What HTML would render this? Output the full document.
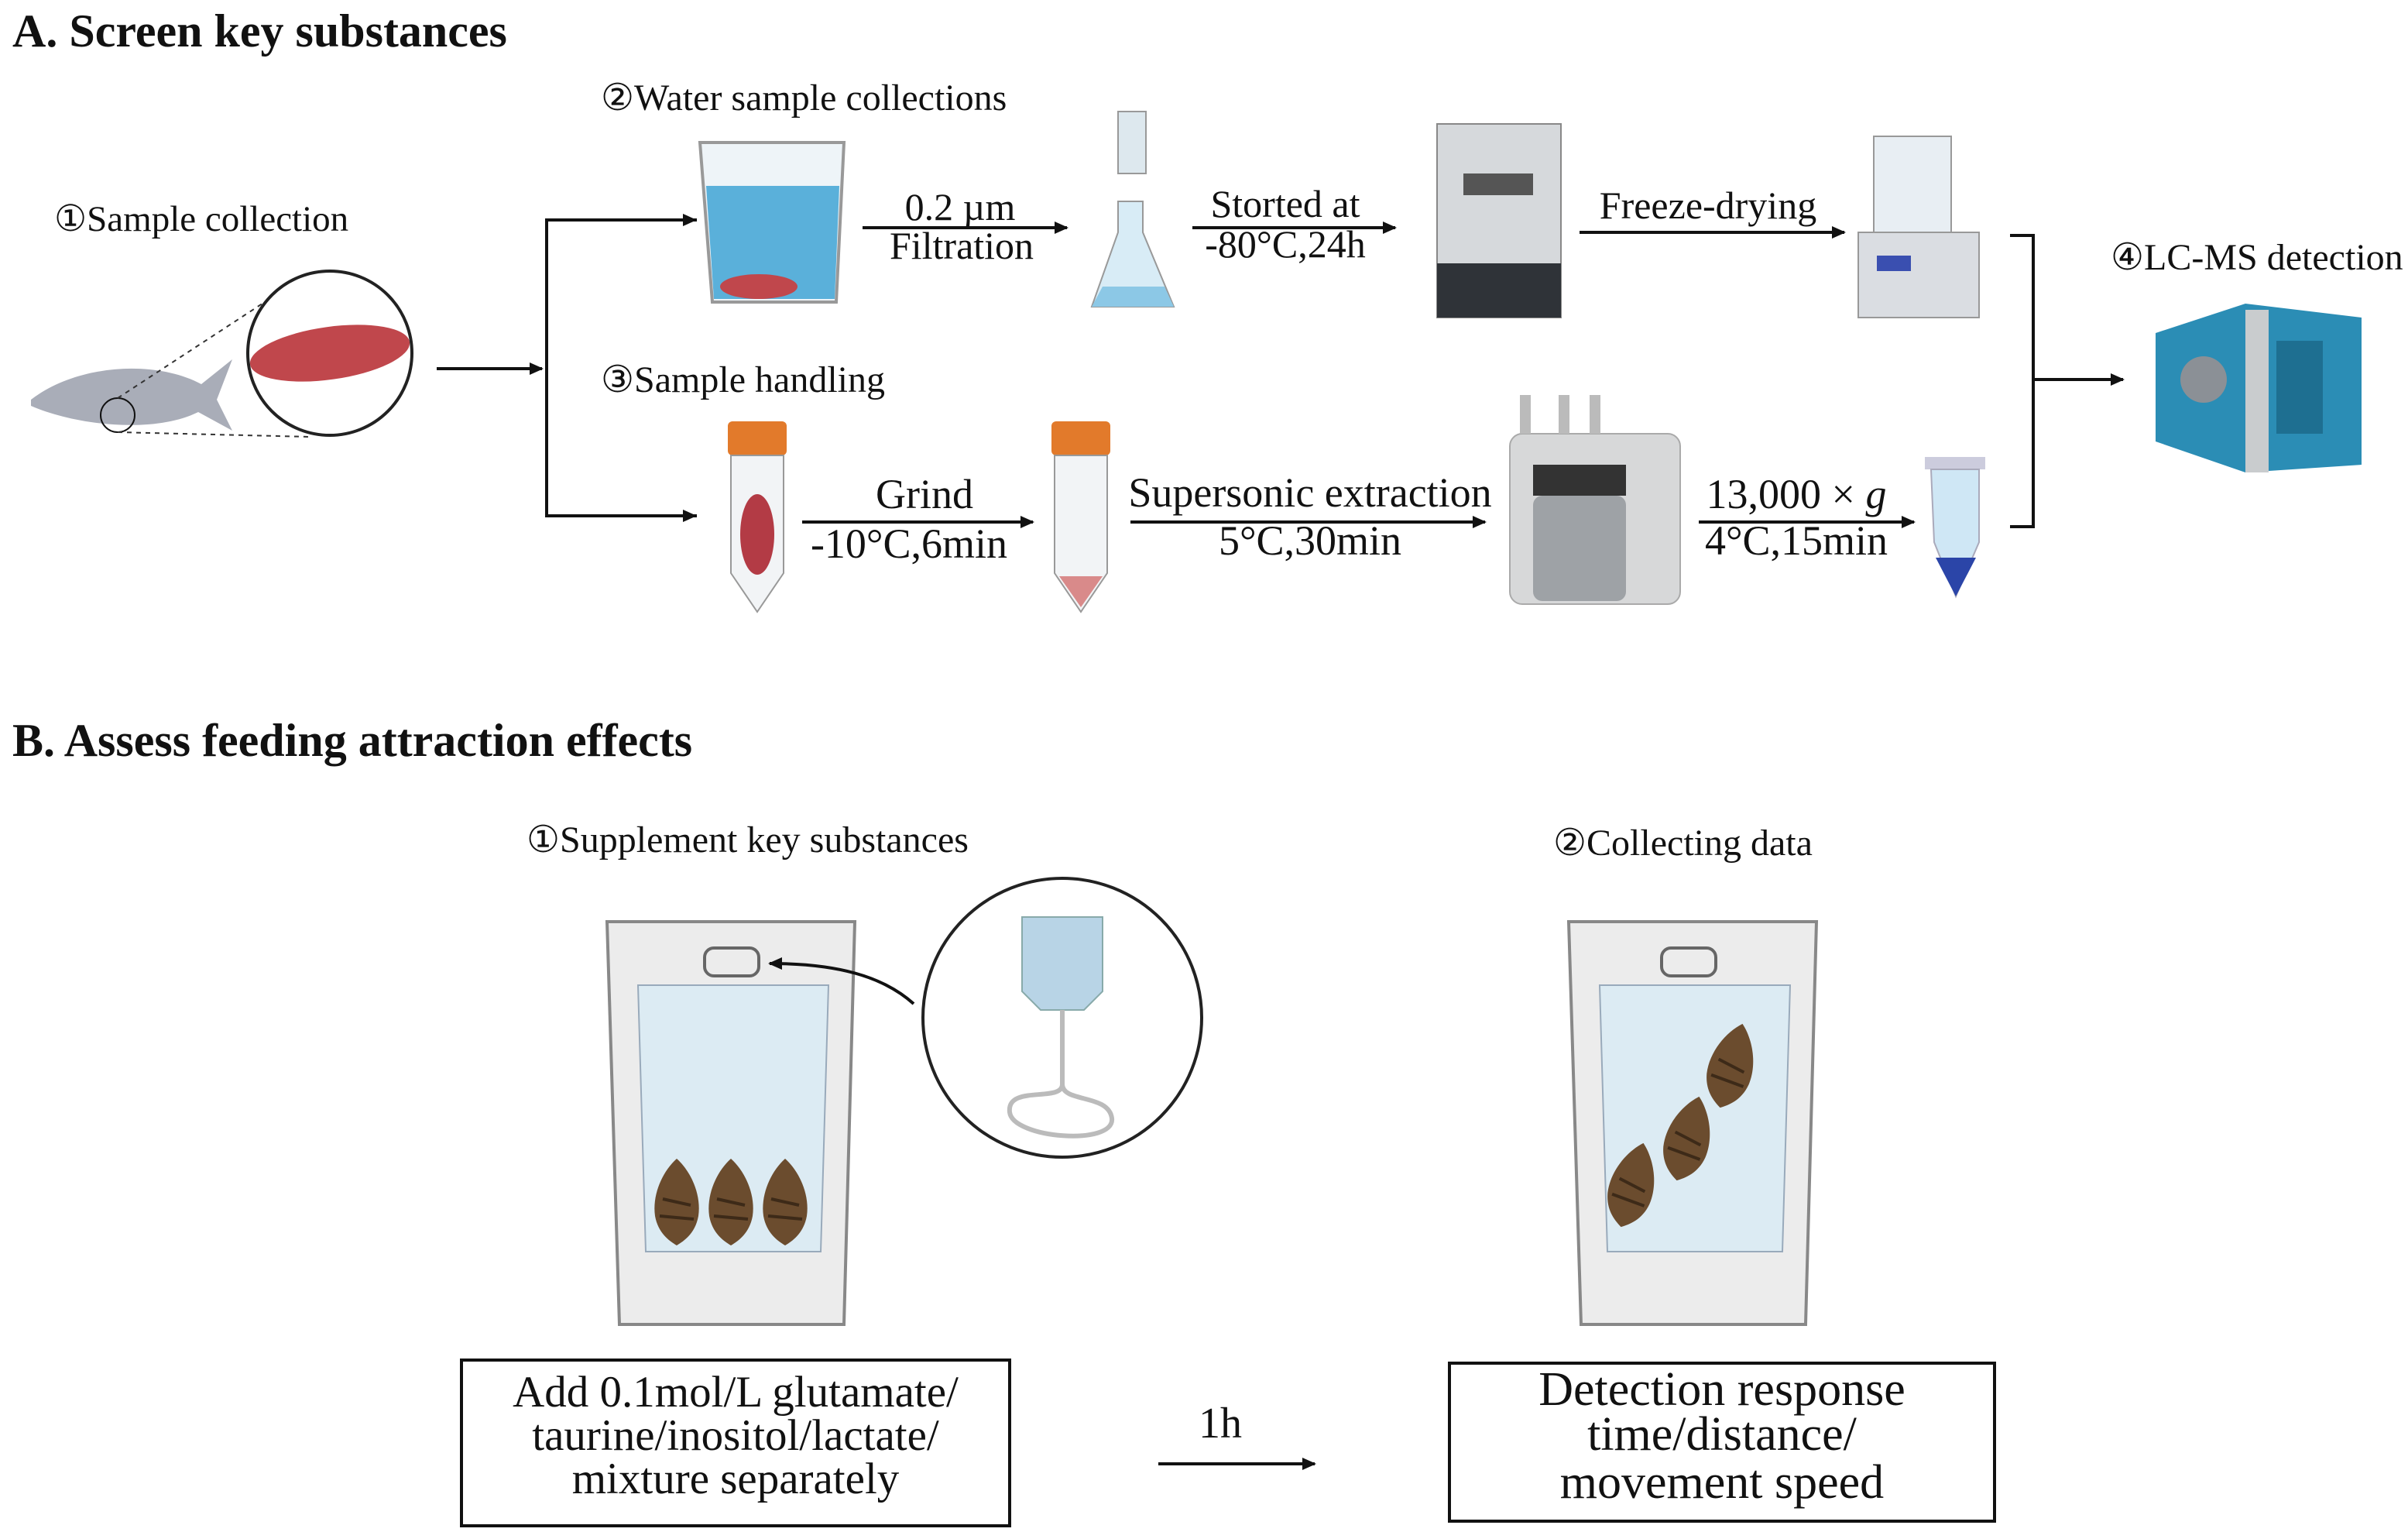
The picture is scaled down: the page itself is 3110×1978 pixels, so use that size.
<!DOCTYPE html>
<html><head><meta charset="utf-8"><style>
html,body{margin:0;padding:0;background:#fff;}
svg{display:block;}
text{font-family:"Liberation Serif",serif;fill:#111;}
</style></head><body>
<svg width="3110" height="1978" viewBox="0 0 1555 989" xmlns="http://www.w3.org/2000/svg">
<defs>
<marker id="ah" markerWidth="10" markerHeight="10" refX="8" refY="5" orient="auto" markerUnits="userSpaceOnUse">
<path d="M0,1 L9,5 L0,9 Z" fill="#111"/></marker>
<g id="shell"><path d="M0,-28 C9,-20 16,-5 14,9 C12,20 5,25 0,28 C-5,25 -12,20 -14,9 C-16,-5 -9,-20 0,-28Z" fill="#6b4c2e"/><path d="M-9,-2 L9,2 M-11,9 L11,11" stroke="#3d2a18" stroke-width="2"/></g>
</defs>
<!-- text -->
<text x="8" y="30" font-size="30" font-weight="bold">A. Screen key substances</text>
<text x="35" y="149" font-size="23.5">①Sample collection</text>
<text x="388" y="71" font-size="24">②Water sample collections</text>
<text x="388" y="253" font-size="24">③Sample handling</text>
<text x="1363" y="174" font-size="24">④LC-MS detection</text>
<g text-anchor="middle">
<text x="620" y="142" font-size="25">0.2 µm</text><text x="621" y="167" font-size="25">Filtration</text>
<text x="830" y="140" font-size="25">Storted at</text><text x="830" y="166" font-size="25">-80°C,24h</text>
<text x="1103" y="141" font-size="25">Freeze-drying</text>
<text x="597" y="328" font-size="27">Grind</text><text x="587" y="360" font-size="27">-10°C,6min</text>
<text x="846" y="327" font-size="27">Supersonic extraction</text><text x="846" y="358" font-size="27">5°C,30min</text>
<text x="1160" y="328" font-size="27">13,000 × <tspan font-style="italic">g</tspan></text><text x="1160" y="358" font-size="27">4°C,15min</text>
</g>
<text x="8" y="488" font-size="30" font-weight="bold">B. Assess feeding attraction effects</text>
<text x="340" y="550" font-size="24">①Supplement key substances</text>
<text x="1003" y="552" font-size="24">②Collecting data</text>
<g text-anchor="middle">
<text x="475" y="908" font-size="28.5">Add 0.1mol/L glutamate/</text>
<text x="475" y="936" font-size="28.5">taurine/inositol/lactate/</text>
<text x="475" y="964" font-size="28.5">mixture separately</text>
<text x="1112" y="907" font-size="31">Detection response</text>
<text x="1112" y="936" font-size="31">time/distance/</text>
<text x="1112" y="967" font-size="31">movement speed</text>
<text x="788" y="928" font-size="28">1h</text>
</g>
<!-- fish -->
<path d="M20,258 C50,235 100,232 130,248 L150,232 L140,258 L150,278 L128,266 C100,280 50,275 20,262Z" fill="#a9adb8"/>
<circle cx="76" cy="268" r="11" fill="none" stroke="#111"/>
<path d="M76,257 L200,176 M76,279 L200,282" stroke="#333" stroke-dasharray="3,3"/>
<circle cx="213" cy="228" r="53" fill="#fff" stroke="#222" stroke-width="2"/>
<ellipse cx="213" cy="228" rx="52" ry="17" fill="#c0474c" transform="rotate(-8 213 228)"/>
<!-- beaker -->
<path d="M452,92 L545,92 L540,195 L460,195Z" fill="#eef4f8" stroke="#999" stroke-width="2"/>
<path d="M456,120 L542,120 L539,193 L461,193Z" fill="#5ab0da"/>
<ellipse cx="490" cy="185" rx="25" ry="8" fill="#c0474c"/>
<!-- flask -->
<rect x="722" y="72" width="18" height="40" fill="#dde8ee" stroke="#999"/>
<path d="M722,130 L738,130 L738,150 L758,198 L705,198 L722,150Z" fill="#d8ecf6" stroke="#999"/>
<path d="M712,185 L752,185 L758,198 L705,198Z" fill="#8cc8e6"/>
<!-- freezer -->
<rect x="928" y="80" width="80" height="125" fill="#d6d9dc" stroke="#888"/>
<rect x="928" y="170" width="80" height="35" fill="#2f3338"/>
<rect x="945" y="112" width="45" height="14" fill="#555"/>
<!-- freeze dryer -->
<rect x="1200" y="150" width="78" height="55" fill="#dadde2" stroke="#999"/>
<rect x="1210" y="88" width="50" height="62" fill="#e8eef3" stroke="#999"/>
<rect x="1212" y="165" width="22" height="10" fill="#3a4fb0"/>
<!-- LC-MS -->
<path d="M1392,215 L1450,196 L1525,205 L1525,300 L1450,305 L1392,285Z" fill="#2b8db5"/>
<rect x="1450" y="200" width="15" height="105" fill="#c9ccce"/>
<circle cx="1423" cy="245" r="15" fill="#8b9096"/>
<rect x="1470" y="220" width="30" height="60" fill="#1e6f91"/>
<!-- tubes -->
<g><rect x="470" y="272" width="38" height="22" rx="3" fill="#e27a2b"/>
<path d="M472,294 L506,294 L506,370 L489,395 L472,370Z" fill="#f2f4f6" stroke="#999"/>
<ellipse cx="489" cy="345" rx="11" ry="26" fill="#b33b45"/></g>
<g><rect x="679" y="272" width="38" height="22" rx="3" fill="#e27a2b"/>
<path d="M681,294 L715,294 L715,370 L698,395 L681,370Z" fill="#f2f4f6" stroke="#999"/>
<path d="M684,372 L712,372 L698,392Z" fill="#d98a8a"/></g>
<!-- extractor -->
<rect x="975" y="280" width="110" height="110" rx="8" fill="#d7d8d9" stroke="#aaa"/>
<rect x="990" y="320" width="60" height="68" rx="6" fill="#9ea2a6"/>
<rect x="990" y="300" width="60" height="20" fill="#333"/>
<path d="M985,280 L985,255 M1010,280 L1010,255 M1030,280 L1030,255" stroke="#bbb" stroke-width="7"/>
<!-- eppendorf -->
<rect x="1243" y="295" width="39" height="8" fill="#ccd" />
<path d="M1247,303 L1278,303 L1278,350 L1263,385 L1249,350Z" fill="#cfe7f5" stroke="#aab"/>
<path d="M1250,360 L1276,360 L1263,385Z" fill="#2b45a8"/>
<!-- tanks -->
<g>
<path d="M392,595 L552,595 L545,855 L400,855Z" fill="#ececec" stroke="#888" stroke-width="2"/>
<path d="M412,636 L535,636 L530,808 L417,808Z" fill="#dcebf3" stroke="#9ab"/>
<rect x="455" y="612" width="35" height="18" rx="6" fill="none" stroke="#666" stroke-width="2"/>
<use href="#shell" x="437" y="776"/><use href="#shell" x="472" y="776"/><use href="#shell" x="507" y="776"/>
</g>
<g>
<path d="M1013,595 L1173,595 L1166,855 L1021,855Z" fill="#ececec" stroke="#888" stroke-width="2"/>
<path d="M1033,636 L1156,636 L1151,808 L1038,808Z" fill="#dcebf3" stroke="#9ab"/>
<rect x="1073" y="612" width="35" height="18" rx="6" fill="none" stroke="#666" stroke-width="2"/>
<use href="#shell" x="1118" y="688" transform="rotate(15 1118 688)"/><use href="#shell" x="1090" y="735" transform="rotate(15 1090 735)"/><use href="#shell" x="1054" y="765" transform="rotate(15 1054 765)"/>
</g>
<!-- IV circle -->
<circle cx="686" cy="657" r="90" fill="#fff" stroke="#222" stroke-width="2"/>
<path d="M660,592 L712,592 L712,640 L700,652 L672,652 L660,640Z" fill="#b8d4e6" stroke="#8aa"/>
<path d="M686,652 L686,700 C686,712 650,700 652,718 C654,735 720,740 718,722 C716,706 686,712 686,700" fill="none" stroke="#bbb" stroke-width="3"/>
<g stroke="#111" stroke-width="2" fill="none">
<line x1="282" y1="238" x2="350" y2="238" marker-end="url(#ah)"/>
<polyline points="450,142 353,142 353,333 450,333"/>
<line x1="440" y1="142" x2="449" y2="142" marker-end="url(#ah)"/>
<line x1="440" y1="333" x2="449" y2="333" marker-end="url(#ah)"/>
<line x1="557" y1="147" x2="689" y2="147" marker-end="url(#ah)"/>
<line x1="770" y1="147" x2="901" y2="147" marker-end="url(#ah)"/>
<line x1="1020" y1="150" x2="1191" y2="150" marker-end="url(#ah)"/>
<polyline points="1298,152 1313,152 1313,340 1298,340"/>
<line x1="1313" y1="245" x2="1371" y2="245" marker-end="url(#ah)"/>
<line x1="518" y1="337" x2="667" y2="337" marker-end="url(#ah)"/>
<line x1="730" y1="337" x2="959" y2="337" marker-end="url(#ah)"/>
<line x1="1097" y1="337" x2="1236" y2="337" marker-end="url(#ah)"/>
<rect x="298" y="878" width="354" height="107"/>
<rect x="936" y="880" width="352" height="102"/>
<line x1="748" y1="945" x2="849" y2="945" marker-end="url(#ah)"/>
<path d="M590,648 C570,630 540,622 497,622" marker-end="url(#ah)"/>
</g>
</svg>
</body></html>
